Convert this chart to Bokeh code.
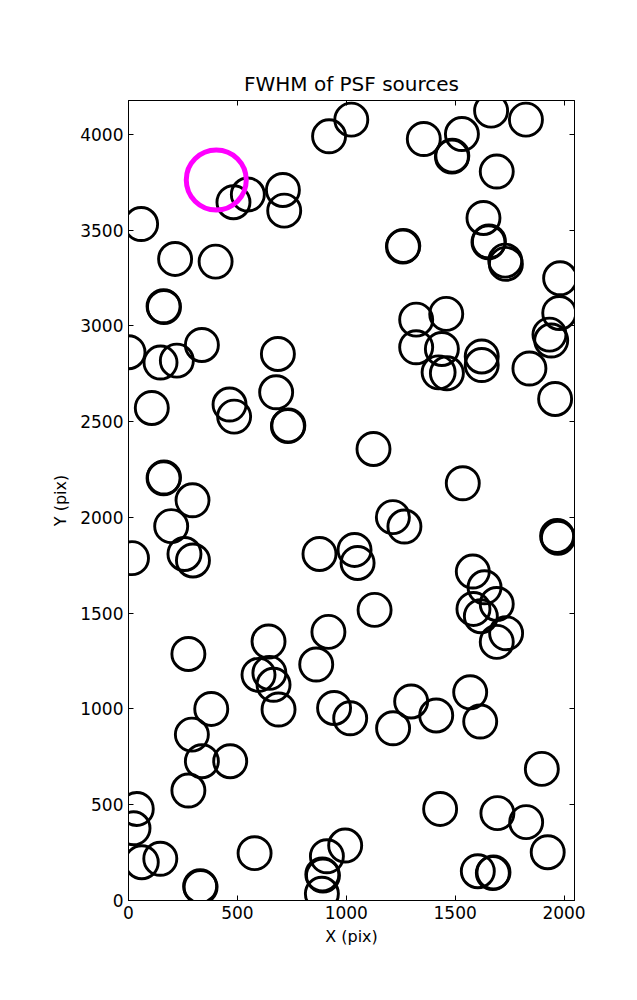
from bokeh.plotting import figure
from bokeh.models import Range1d, FixedTicker, LinearAxis, CustomJSTickFormatter
from bokeh.embed import file_html
from bokeh.resources import INLINE

title_text = "FWHM of PSF sources"
x_label = "X (pix)"
y_label = "Y (pix)"
x_ticks = [0, 500, 1000, 1500, 2000]
y_ticks = [0, 500, 1000, 1500, 2000, 2500, 3000, 3500, 4000]

src_x = [58, 214, 400, 161, 163, 0, 147, 222, 337, 686, 482, 548, 709, 715, 921, 1023,
         1356, 1531, 1485, 1487, 1665, 1825, 1691, 1630, 1653, 1655, 1730, 1733, 1260, 1262,
         1982, 1978, 1933, 1941, 1321, 1459, 1321, 1439, 1622, 1622, 1841, 1424, 1462, 1959,
         1125, 1535, 1214, 1267, 1038, 1052, 1968, 1972, 1581, 1635, 1691, 1584, 1618, 1130,
         1734, 1691, 918,
         107, 464, 485, 678, 732, 734, 161, 163, 294, 196, 257, 296, 16, 877, 643, 275,
         862, 597, 647, 666, 689, 944, 1018, 380, 291, 337, 467, 275, 38, 23, 61, 146,
         329, 331, 893, 890, 888, 579, 995, 911,
         1569, 1298, 1215, 1413, 1615, 1898, 1431, 1694, 1826, 1925, 1604, 1673, 1676]
src_y = [3531, 3349, 3335, 3102, 3098, 2862, 2808, 2818, 2900, 2853, 3645, 3685, 3709, 3601, 3989, 4076,
         3975, 4001, 3883, 3888, 4123, 4076, 3805, 3563, 3436, 3440, 3340, 3323, 3413, 3417,
         3248, 3067, 2954, 2923, 3032, 3062, 2888, 2879, 2840, 2795, 2777, 2757, 2752, 2618,
         2357, 2178, 2001, 1952, 1830, 1762, 1903, 1893, 1717, 1635, 1548, 1522, 1484, 1517,
         1395, 1350, 1402,
         2571, 2589, 2526, 2653, 2476, 2480, 2204, 2208, 2089, 1954, 1809, 1775, 1787, 1809, 1352, 1287,
         1232, 1178, 1188, 1126, 997, 1005, 951, 1000, 866, 727, 727, 574, 478, 377, 200, 218,
         75, 70, 130, 136, 35, 247, 287, 231,
         1087, 1039, 899, 966, 934, 687, 478, 456, 409, 252, 153, 143, 147]

ref_x = [403]
ref_y = [3761]

FONT = "DejaVu Sans"

p = figure(frame_width=446, frame_height=800,
           x_range=Range1d(0, 2048), y_range=Range1d(0, 4176),
           output_backend="svg", toolbar_location=None,
           min_border_left=128, min_border_right=63,
           min_border_top=100, min_border_bottom=92,
           title=title_text)

p.title.align = "center"
p.title.text_font = FONT
p.title.text_font_size = "20px"
p.title.text_font_style = "normal"
p.title.text_color = "black"

p.grid.visible = False
p.outline_line_color = "black"
p.outline_line_width = 1
p.outline_line_alpha = 1
p.background_fill_color = "white"
p.border_fill_color = "white"

p.xaxis.ticker = FixedTicker(ticks=x_ticks)
p.yaxis.ticker = FixedTicker(ticks=y_ticks)
p.xaxis.axis_label = x_label
p.yaxis.axis_label = y_label
for ax in (p.xaxis[0], p.yaxis[0]):
    ax.major_label_text_font = FONT
    ax.major_label_text_font_size = "17px"
    ax.major_label_text_color = "black"
    ax.axis_label_text_font = FONT
    ax.axis_label_text_font_size = "16px"
    ax.axis_label_text_font_style = "normal"
    ax.axis_label_text_color = "black"
    ax.major_tick_in = 5
    ax.major_tick_out = 0
    ax.minor_tick_line_color = None
    ax.axis_line_color = "black"
    ax.major_tick_line_color = "black"
    ax.major_label_standoff = 5
p.xaxis.axis_label_standoff = 5
p.yaxis.axis_label_standoff = 7

blank = CustomJSTickFormatter(code="return '';")
top = LinearAxis(ticker=FixedTicker(ticks=x_ticks), formatter=blank,
                 major_tick_in=5, major_tick_out=0, minor_tick_line_color=None,
                 axis_line_color="black", major_label_standoff=0)
right = LinearAxis(ticker=FixedTicker(ticks=y_ticks), formatter=blank,
                   major_tick_in=5, major_tick_out=0, minor_tick_line_color=None,
                   axis_line_color="black", major_label_standoff=0)
p.add_layout(top, "above")
p.add_layout(right, "right")

p.scatter(src_x, src_y, marker="circle", size=33, fill_color=None,
          line_color="black", line_width=2.9)
p.scatter(ref_x, ref_y, marker="circle", size=60, fill_color=None,
          line_color="#ff00ff", line_width=5)

open("out.html", "w").write(file_html(p, INLINE))
